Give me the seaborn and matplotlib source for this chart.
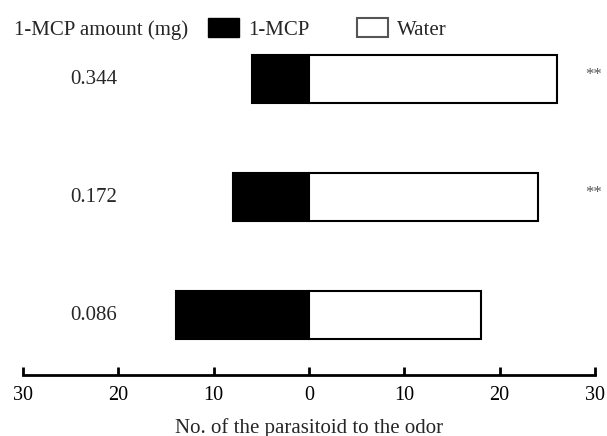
import pandas as pd
import matplotlib
matplotlib.use("Agg")
from matplotlib import pyplot as plt
from matplotlib.patches import Patch
import seaborn as sns

# data
amounts = ["0.344", "0.172", "0.086"]
mcp_counts = [6, 8, 14]
water_counts = [26, 24, 18]
significance = ["**", "**", ""]
x_ticks = [-30, -20, -10, 0, 10, 20, 30]

sns.set_theme(style="white")
plt.rcParams["font.family"] = ["Liberation Serif", "DejaVu Serif"]

# 1-MCP counts go to the left, water to the right
df = pd.DataFrame({
    "amount": amounts * 2,
    "count": [-v for v in mcp_counts] + water_counts,
    "odor": ["1-MCP"] * len(amounts) + ["Water"] * len(amounts),
})

fig = plt.figure(figsize=(6.07, 4.36), dpi=100)
ax = fig.add_axes([23 / 607, 61 / 436, 572 / 607, 355 / 436])

sns.barplot(data=df, y="amount", x="count", hue="odor", order=amounts, orient="h",
            palette={"1-MCP": "black", "Water": "white"}, dodge=False, width=0.41,
            edgecolor="black", linewidth=1.5, ax=ax, legend=False)

ax.set_xlim(-30, 30)
ax.set_ylim(2.508, -0.5)
ax.set_xticks(x_ticks)
ax.set_xticklabels([str(abs(t)) for t in x_ticks])
ax.set_yticks([])
ax.set_ylabel("")
ax.set_xlabel("No. of the parasitoid to the odor", fontsize=15, labelpad=9)

for side in ["left", "top", "right"]:
    ax.spines[side].set_visible(False)
ax.spines["bottom"].set_linewidth(2)
ax.spines["bottom"].set_color("black")
ax.tick_params(axis="x", direction="in", length=6, width=2, pad=8, labelsize=14.5,
               colors="black", bottom=True)

for i, (amt, sig) in enumerate(zip(amounts, significance)):
    ax.text(-22.6, i, amt, ha="center", va="center", fontsize=15)
    if sig:
        ax.text(29.9, i - 0.03, sig, ha="center", va="center", fontsize=12,
                color="#555555", clip_on=False)

fig.text(14 / 607, 1 - 30 / 436, "1-MCP amount (mg)", ha="left", va="center", fontsize=15)

handles = [Patch(facecolor="black", edgecolor="black"),
           Patch(facecolor="white", edgecolor="#555555", linewidth=1.5)]
fig.legend(handles=handles, labels=["1-MCP", "Water"], loc="center left",
           bbox_to_anchor=(208 / 607, 1 - 29 / 436), ncol=2, frameon=False, fontsize=15,
           handlelength=1.5, handleheight=1.0, handletextpad=0.43, columnspacing=2.26,
           borderpad=0, borderaxespad=0)

fig.savefig("out.png", dpi=100)
